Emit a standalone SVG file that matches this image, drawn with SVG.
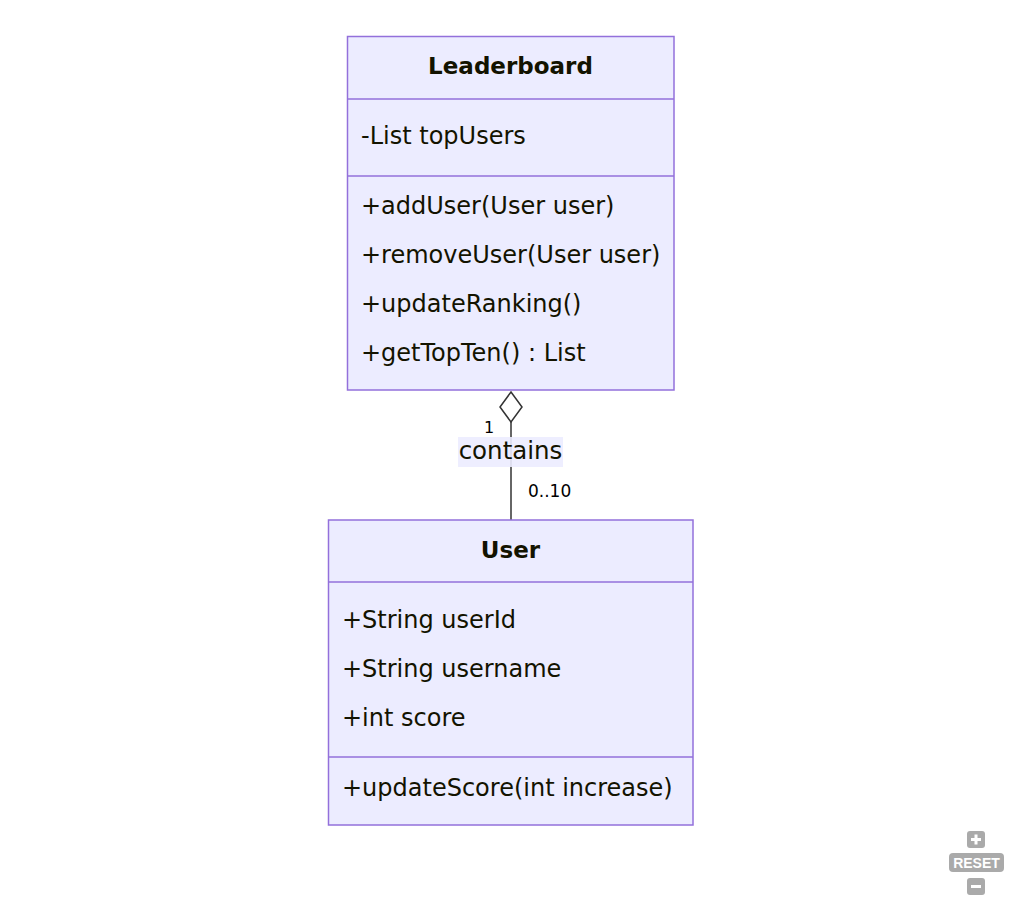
<svg xmlns="http://www.w3.org/2000/svg" width="1015" height="904" viewBox="0 0 1015 904">
<style>
.box{fill:#ECECFF;stroke:#9370DB;stroke-width:1.5}
.div{stroke:#9370DB;stroke-width:1.5}
.t{font-family:"DejaVu Sans",Verdana,sans-serif;font-size:24px;fill:#131300}
.title{font-weight:bold;text-anchor:middle;font-size:23px}
.edge{stroke:#333;stroke-width:1.5;fill:none}
.lbl{font-family:"DejaVu Sans",Verdana,sans-serif;font-size:17px;fill:#000}
.btn{fill:#aaa}
</style>
<rect width="1015" height="904" fill="#fff"/>
<g id="connectors">
<line class="edge" x1="511" y1="422" x2="511" y2="520"/>
<polygon points="511,392 522,407 511,422 500,407" fill="#fff" stroke="#333" stroke-width="1.5"/>
<rect x="458" y="437" width="105" height="30" fill="#ECECFF" opacity="0.9"/>
<text class="t" x="510.5" y="459" text-anchor="middle" style="font-size:24.5px">contains</text>
<text class="lbl" x="484" y="433" style="font-size:16px">1</text>
<text class="lbl" x="528" y="497">0..10</text>
</g>
<g id="Leaderboard">
<rect class="box" x="347.5" y="36.5" width="326.5" height="353.5"/>
<line class="div" x1="347.5" y1="99" x2="674" y2="99"/>
<line class="div" x1="347.5" y1="176" x2="674" y2="176"/>
<text class="t title" x="510.5" y="74">Leaderboard</text>
<text class="t" x="361" y="144">-List topUsers</text>
<text class="t" x="361" y="214">+addUser(User user)</text>
<text class="t" x="361" y="263">+removeUser(User user)</text>
<text class="t" x="361" y="312">+updateRanking()</text>
<text class="t" x="361" y="361">+getTopTen() : List</text>
</g>
<g id="User">
<rect class="box" x="328.5" y="520" width="364.5" height="305"/>
<line class="div" x1="328.5" y1="582" x2="693" y2="582"/>
<line class="div" x1="328.5" y1="757" x2="693" y2="757"/>
<text class="t title" x="510.5" y="558">User</text>
<text class="t" x="342" y="628">+String userId</text>
<text class="t" x="342" y="677">+String username</text>
<text class="t" x="342" y="726">+int score</text>
<text class="t" x="342" y="796">+updateScore(int increase)</text>
</g>
<g id="zoom-controls">
<rect class="btn" x="967" y="831" width="18" height="17" rx="3"/>
<path d="M976,834.5 v10 M971,839.5 h10" stroke="#fff" stroke-width="3"/>
<rect class="btn" x="949" y="853" width="55" height="19" rx="4"/>
<text x="976.5" y="868" text-anchor="middle" font-family="'Liberation Sans',Arial,sans-serif" font-weight="bold" font-size="14" fill="#fff">RESET</text>
<rect class="btn" x="967" y="878" width="18" height="17" rx="3"/>
<path d="M971,886.5 h10" stroke="#fff" stroke-width="3"/>
</g>
</svg>
